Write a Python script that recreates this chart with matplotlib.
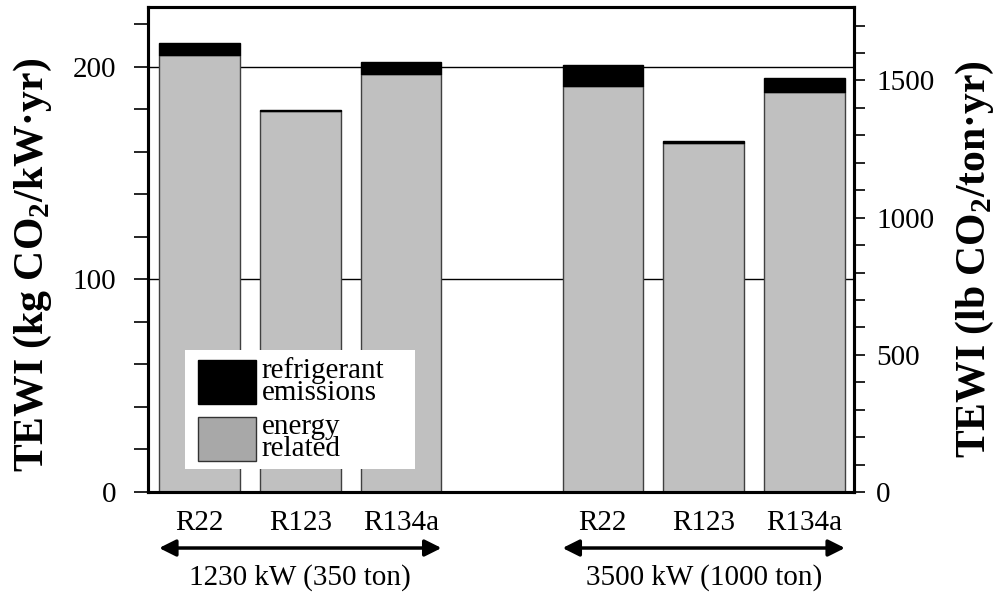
import numpy as np
import matplotlib
matplotlib.use("Agg")
import matplotlib.pyplot as plt
from matplotlib.patches import Patch, Rectangle
from matplotlib.ticker import MultipleLocator

plt.rcParams['font.family'] = ['Liberation Serif', 'DejaVu Serif']
plt.rcParams['mathtext.fontset'] = 'custom'
plt.rcParams['mathtext.rm'] = 'Liberation Serif'
plt.rcParams['mathtext.bf'] = 'Liberation Serif:bold'

# data (kg CO2 / kW.yr)
refrigerants = ['R22', 'R123', 'R134a', 'R22', 'R123', 'R134a']
slots = [0, 1, 2, 4, 5, 6]
energy = [205.6, 179.2, 196.7, 190.7, 164.2, 187.9]
emissions = [5.4, 0.6, 5.5, 10.1, 1.0, 6.6]
groups = ['1230 kW (350 ton)', '3500 kW (1000 ton)']
group_slots = [[0, 1, 2], [4, 5, 6]]
kg_kw_to_lb_ton = 7.754

fig = plt.figure(figsize=(10.01, 5.92), dpi=100)
ax = fig.add_axes([148/1001, 1 - 492/592, 706/1001, 485/592])

ax.bar(slots, energy, width=0.8, color='#c0c0c0', edgecolor='#404040', lw=1, zorder=2)
ax.bar(slots, emissions, width=0.8, bottom=energy, color='black', edgecolor='black', lw=1, zorder=2)

ax.set_xlim(-0.51, 6.49)
ax.set_ylim(0, 228)
ax.yaxis.set_major_locator(MultipleLocator(100))
ax.yaxis.set_minor_locator(MultipleLocator(20))
ax.set_axisbelow(True)
ax.yaxis.grid(True, which='major', color='black', lw=1)

ax.set_xticks(slots)
ax.set_xticklabels(refrigerants, fontsize=21)
ax.tick_params(axis='x', length=0, pad=13)
ax.tick_params(axis='y', which='both', direction='out', length=10, width=1.2, labelsize=21, pad=13)
for s in ax.spines.values():
    s.set_linewidth(2.2)

ax2 = ax.twinx()
ax2.set_ylim(0, 228 * kg_kw_to_lb_ton)
ax2.yaxis.set_major_locator(MultipleLocator(500))
ax2.yaxis.set_minor_locator(MultipleLocator(100))
ax2.tick_params(axis='y', which='both', direction='out', length=8, width=1.2, labelsize=21, pad=8)
for s in ax2.spines.values():
    s.set_linewidth(2.2)

# legend with white background box
ax.add_patch(Rectangle((0.0524, 0.0474), 0.3258, 0.2454, transform=ax.transAxes,
                       facecolor='white', edgecolor='none', zorder=3))
handles = [Patch(facecolor='black', edgecolor='black'),
           Patch(facecolor='#a8a8a8', edgecolor='#333333')]
leg = ax.legend(handles, ['refrigerant\nemissions', 'energy\nrelated'],
                loc='upper left', bbox_to_anchor=(0.0708, 0.278), frameon=False,
                fontsize=21, borderpad=0, borderaxespad=0, handlelength=1.99,
                handleheight=1.95, handletextpad=0.2, labelspacing=0.28)
leg.set_zorder(5)
for t in leg.get_texts():
    t.set_linespacing(0.8)

# group arrows and labels
for name, gs in zip(groups, group_slots):
    ax.annotate('', xy=(gs[0] - 0.4, -0.1155), xytext=(gs[-1] + 0.4, -0.1155),
                xycoords=('data', 'axes fraction'), textcoords=('data', 'axes fraction'),
                arrowprops=dict(arrowstyle='<|-|>,head_length=0.5,head_width=0.25',
                                mutation_scale=20, lw=2.5, color='black',
                                shrinkA=0, shrinkB=0),
                annotation_clip=False)
    ax.text(np.mean(gs), -0.177, name, transform=ax.get_xaxis_transform(),
            ha='center', va='center', fontsize=21)

fig.text(33/1001, 1 - 264.5/592, r'TEWI (kg CO$_\mathbf{2}$/kW·yr)', rotation=90,
         ha='center', va='center', fontsize=30, fontweight='bold')
fig.text(975/1001, 1 - 259/592, r'TEWI (lb CO$_\mathbf{2}$/ton·yr)', rotation=90,
         ha='center', va='center', fontsize=30, fontweight='bold')

fig.savefig('out.png', dpi=100)
